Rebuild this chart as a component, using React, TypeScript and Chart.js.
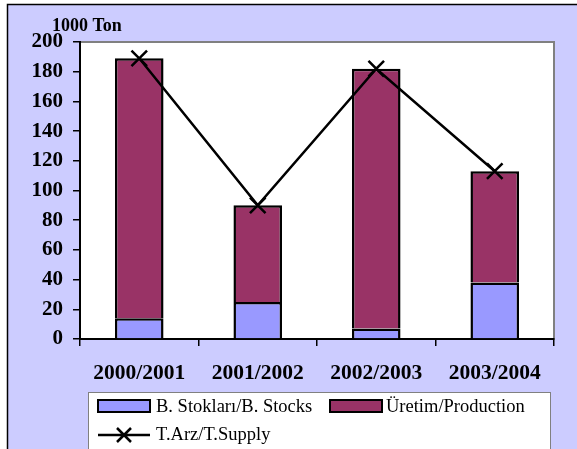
import React, { useEffect, useRef } from "react";
import { Chart, registerables } from "chart.js";

Chart.register(...registerables);

const categories = ["2000/2001", "2001/2002", "2002/2003", "2003/2004"];
const stocks = [14, 25, 7, 38];
const production = [175, 65, 175, 75];
const supply = [189, 90, 182, 113];
const yTicks = [0, 20, 40, 60, 80, 100, 120, 140, 160, 180, 200];
const unitLabel = "1000 Ton";
const seriesNames = ["B. Stokları/B. Stocks", "Üretim/Production", "T.Arz/T.Supply"];

const STOCK_COLOR = "#9999FF";
const PROD_COLOR = "#993366";
const BG = "#CCCCFF";
const SERIF = "'Liberation Serif', 'Times New Roman', serif";

const framePlugin = {
  id: "frame",
  beforeDraw(chart: any) {
    const { ctx, chartArea, width, height } = chart;
    ctx.save();
    ctx.fillStyle = "#ffffff";
    ctx.fillRect(0, 0, width, height);
    ctx.fillStyle = BG;
    ctx.fillRect(7, 4, width - 7, height - 4);
    ctx.strokeStyle = "#000";
    ctx.lineWidth = 1.5;
    ctx.beginPath();
    ctx.moveTo(7.5, height);
    ctx.lineTo(7.5, 4.5);
    ctx.lineTo(width, 4.5);
    ctx.stroke();
    ctx.fillStyle = "#ffffff";
    ctx.fillRect(chartArea.left, chartArea.top, chartArea.right - chartArea.left, chartArea.bottom - chartArea.top);
    ctx.strokeStyle = "#808080";
    ctx.lineWidth = 2;
    ctx.strokeRect(chartArea.left, chartArea.top, chartArea.right - chartArea.left, chartArea.bottom - chartArea.top);
    ctx.restore();
  },
  afterDraw(chart: any) {
    const { ctx } = chart;
    ctx.save();
    ctx.fillStyle = "#000";
    ctx.font = `bold 18px ${SERIF}`;
    ctx.textBaseline = "alphabetic";
    ctx.textAlign = "left";
    ctx.fillText(unitLabel, 52, 31);

    // legend box
    ctx.fillStyle = "#ffffff";
    ctx.fillRect(88, 392, 462, 70);
    ctx.strokeStyle = "#808080";
    ctx.lineWidth = 1;
    ctx.strokeRect(88.5, 392.5, 462, 70);

    const sw = (x: number, color: string) => {
      ctx.fillStyle = color;
      ctx.fillRect(x, 400, 52, 12);
      ctx.strokeStyle = "#000";
      ctx.lineWidth = 2;
      ctx.strokeRect(x, 400, 52, 12);
    };
    sw(98, STOCK_COLOR);
    sw(330, PROD_COLOR);
    ctx.fillStyle = "#000";
    ctx.font = `18.5px ${SERIF}`;
    ctx.textBaseline = "middle";
    ctx.fillText(seriesNames[0], 156, 407);
    ctx.fillText(seriesNames[1], 386, 407);
    // line item
    ctx.strokeStyle = "#000";
    ctx.lineWidth = 2.5;
    ctx.beginPath();
    ctx.moveTo(98, 435);
    ctx.lineTo(150, 435);
    ctx.moveTo(117, 428);
    ctx.lineTo(131, 442);
    ctx.moveTo(131, 428);
    ctx.lineTo(117, 442);
    ctx.stroke();
    ctx.fillText(seriesNames[2], 156, 435);
    ctx.restore();
  },
};

export default function App() {
  const ref = useRef<HTMLCanvasElement>(null);
  useEffect(() => {
    if (!ref.current) return;
    const chart = new Chart(ref.current, {
      type: "bar",
      data: {
        labels: categories,
        datasets: [
          {
            type: "line",
            label: seriesNames[2],
            data: supply,
            borderColor: "#000",
            borderWidth: 2.5,
            pointStyle: "crossRot",
            pointRadius: 11,
            pointBorderWidth: 2.5,
            pointBorderColor: "#000",
            stack: "supply",
            order: 0,
          } as any,
          {
            label: seriesNames[0],
            data: stocks,
            backgroundColor: STOCK_COLOR,
            borderColor: "#000",
            borderWidth: 2.5,
            stack: "s",
            order: 1,
            barPercentage: 0.41,
            categoryPercentage: 1,
          },
          {
            label: seriesNames[1],
            data: production,
            backgroundColor: PROD_COLOR,
            borderColor: "#000",
            borderWidth: 2.5,
            stack: "s",
            order: 2,
            barPercentage: 0.41,
            categoryPercentage: 1,
          },
        ],
      },
      options: {
        animation: false,
        responsive: false,
        maintainAspectRatio: false,
        layout: { padding: { left: 0, right: 23, top: 42, bottom: 60 } },
        plugins: { legend: { display: false }, tooltip: { enabled: false } },
        scales: {
          x: {
            stacked: true,
            afterFit: (s: any) => {
              s.height = 50;
            },
            grid: {
              offset: true,
              drawOnChartArea: false,
              drawTicks: true,
              tickLength: 7,
              color: "#000",
              lineWidth: 1.5,
            },
            border: { color: "#000", width: 2 },
            ticks: {
              color: "#000",
              font: { family: SERIF, size: 21.5, weight: "bold" },
              padding: 15,
              maxRotation: 0,
            },
          },
          y: {
            stacked: true,
            min: 0,
            max: 200,
            afterFit: (s: any) => {
              s.width = 80;
            },
            afterBuildTicks: (s: any) => {
              s.ticks = yTicks.map((v) => ({ value: v }));
            },
            grid: {
              drawOnChartArea: false,
              drawTicks: true,
              tickLength: 7,
              color: "#000",
              lineWidth: 1.5,
            },
            border: { color: "#000", width: 2 },
            ticks: {
              color: "#000",
              font: { family: SERIF, size: 21, weight: "bold" },
              padding: 10,
            },
          },
        },
      },
      plugins: [framePlugin],
    });
    return () => chart.destroy();
  }, []);
  return (
    <div style={{ position: "fixed", left: 0, top: 0, width: 577, height: 449 }}>
      <canvas ref={ref} width={577} height={449} style={{ width: 577, height: 449, display: "block" }} />
    </div>
  );
}
